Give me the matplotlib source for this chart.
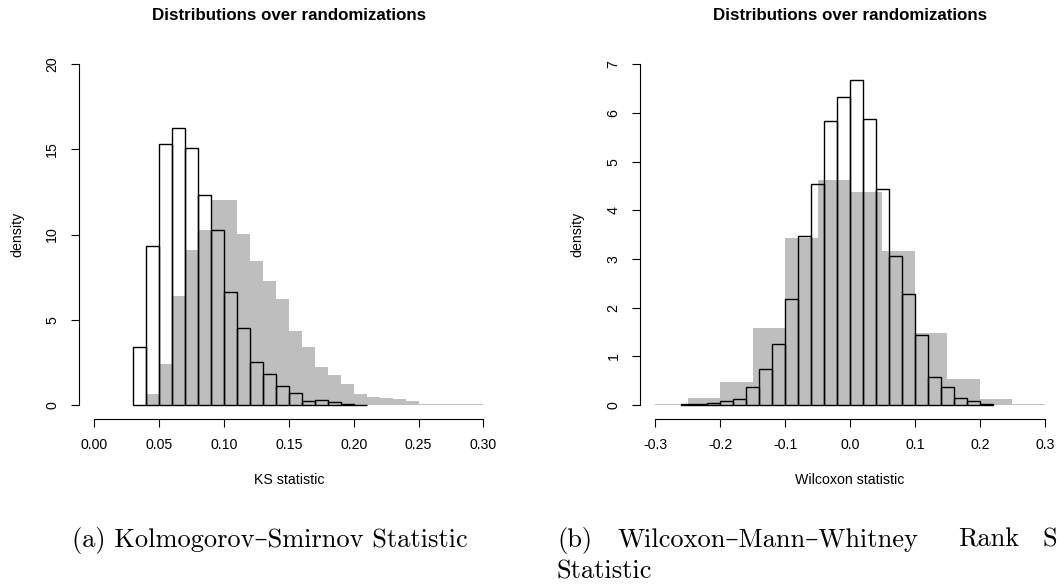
# ---------------------------------------------------------------------
# IMPORTED FUNCTIONS USED IN PROGRAM
# ---------------------------------------------------------------------

import matplotlib
matplotlib.use("Agg")
import matplotlib.pyplot as plt
import numpy as np

# ---------------------------------------------------------------------
# Histogram densities
#  -> outline bars = observed statistic, grey bars = randomizations
# ---------------------------------------------------------------------

ks_outline_start = 0.03
ks_outline_width = 0.01
ks_outline = [3.41, 9.35, 15.31, 16.24, 15.10, 12.31, 10.27, 6.65, 4.49,
              2.49, 1.80, 1.10, 0.71, 0.22, 0.29, 0.14, 0.03, 0.02]

ks_grey_start = 0.04
ks_grey_width = 0.01
ks_grey = [0.63, 2.43, 6.37, 9.08, 10.25, 12.02, 12.02, 10.02, 8.43, 7.25,
           6.20, 4.31, 3.37, 2.25, 1.78, 1.20, 0.61, 0.49, 0.41, 0.37,
           0.20, 0.08, 0.08, 0.04, 0.04, 0.04]

wmw_outline_start = -0.26
wmw_outline_width = 0.02
wmw_outline = [0.014, 0.02, 0.04, 0.07, 0.12, 0.36, 0.74, 1.25, 2.18, 3.48,
               4.55, 5.84, 6.32, 6.68, 5.87, 4.43, 3.05, 2.28, 1.44, 0.57,
               0.36, 0.15, 0.08, 0.014]

wmw_grey_start = -0.30
wmw_grey_width = 0.05
wmw_grey = [0.02, 0.15, 0.46, 1.59, 3.42, 4.62, 4.37, 3.16, 1.47, 0.54,
            0.12, 0.01]

ks_xticks = [0.00, 0.05, 0.10, 0.15, 0.20, 0.25, 0.30]
ks_xlabels = ["0.00", "0.05", "0.10", "0.15", "0.20", "0.25", "0.30"]
ks_yticks = [0, 5, 10, 15, 20]

wmw_xticks = [-0.3, -0.2, -0.1, 0.0, 0.1, 0.2, 0.3]
wmw_xlabels = ["-0.3", "-0.2", "-0.1", "0.0", "0.1", "0.2", "0.3"]
wmw_yticks = [0, 1, 2, 3, 4, 5, 6, 7]

title = "Distributions over randomizations"
grey = "#bebebe"

W, H = 1059, 586


def px(x, y):
    # pixel position (top-left origin) -> figure fraction
    return x / W, 1 - y / H


def draw_panel(ax, grey_vals, grey_start, grey_w, out_vals, out_start, out_w,
               xticks, xlabels, yticks, xlim, ylim):

    g_left = grey_start + grey_w * np.arange(len(grey_vals))
    ax.bar(g_left, grey_vals, width=grey_w, align="edge", color=grey,
           edgecolor="none", linewidth=0)

    o_left = out_start + out_w * np.arange(len(out_vals))
    ax.bar(o_left, out_vals, width=out_w, align="edge", fill=False,
           edgecolor="black", linewidth=1.0)

    ax.set_xlim(*xlim)
    ax.set_ylim(*ylim)

    # R style detached axes
    for s in ["top", "right"]:
        ax.spines[s].set_visible(False)
    ax.spines["left"].set_bounds(yticks[0], yticks[-1])
    ax.spines["bottom"].set_bounds(xticks[0], xticks[-1])
    ax.spines["left"].set_linewidth(0.8)
    ax.spines["bottom"].set_linewidth(0.8)

    ax.set_xticks(xticks)
    ax.set_xticklabels(xlabels)
    ax.set_yticks(yticks)
    ax.set_yticklabels([str(t) for t in yticks], rotation=90, va="center")
    ax.tick_params(length=5.8, width=0.8, pad=8, labelsize=10.2)
    ax.patch.set_visible(False)


fig = plt.figure(figsize=(W / 100, H / 100), dpi=100)
plt.rcParams["font.family"] = ["Liberation Sans", "DejaVu Sans"]

# left panel (KS)
l, b = px(78.5, 418.5)
ax1 = fig.add_axes([l, b, (499 - 78.5) / W, (418.5 - 50.7) / H])
draw_panel(ax1, ks_grey, ks_grey_start, ks_grey_width,
           ks_outline, ks_outline_start, ks_outline_width,
           ks_xticks, ks_xlabels, ks_yticks, (-0.012, 0.312), (-0.8, 20.8))

# right panel (Wilcoxon)
l, b = px(639.7, 418.5)
ax2 = fig.add_axes([l, b, (1060.3 - 639.7) / W, (418.5 - 50.7) / H])
draw_panel(ax2, wmw_grey, wmw_grey_start, wmw_grey_width,
           wmw_outline, wmw_outline_start, wmw_outline_width,
           wmw_xticks, wmw_xlabels, wmw_yticks, (-0.324, 0.324), (-0.28, 7.28))

# titles and axis labels
fig.text(*px(289, 15), title, ha="center", va="center",
         fontsize=12.2, fontweight="bold")
fig.text(*px(850, 15), title, ha="center", va="center",
         fontsize=12.2, fontweight="bold")
fig.text(*px(289, 480), "KS statistic", ha="center", va="center", fontsize=10.2)
fig.text(*px(850, 480), "Wilcoxon statistic", ha="center", va="center",
         fontsize=10.2)
fig.text(*px(17, 234.6), "density", ha="center", va="center", rotation=90,
         fontsize=10.2)
fig.text(*px(577, 234.6), "density", ha="center", va="center", rotation=90,
         fontsize=10.2)

# sub-figure captions (line 1 of (b) is justified across the column)
cap_font = ["cmr10", "DejaVu Serif"]
fig.text(*px(72, 540), "(a) Kolmogorov\u2013Smirnov Statistic", ha="left",
         va="center", fontsize=19, family=cap_font)
fig.text(*px(557, 540), "(b)", ha="left", va="center", fontsize=19,
         family=cap_font)
fig.text(*px(618, 540), "Wilcoxon\u2013Mann\u2013Whitney", ha="left",
         va="center", fontsize=19, family=cap_font)
fig.text(*px(958, 540), "Rank", ha="left", va="center", fontsize=19,
         family=cap_font)
fig.text(*px(1043, 540), "S", ha="left", va="center", fontsize=19,
         family=cap_font)
fig.text(*px(557, 572), "Statistic", ha="left", va="center", fontsize=19,
         family=cap_font)

fig.savefig("out.png", dpi=100)
